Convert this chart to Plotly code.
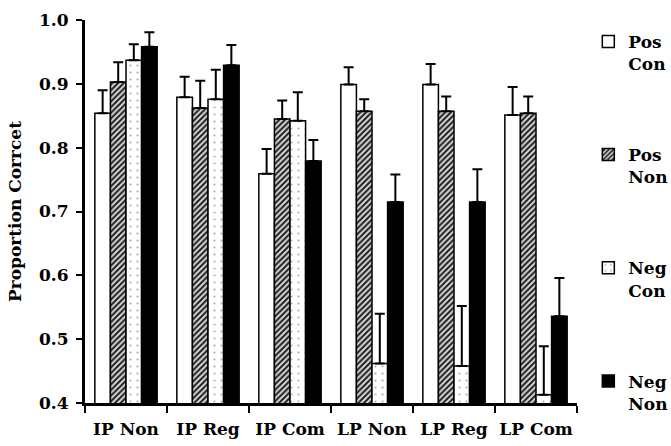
import plotly.graph_objects as go

categories = ["IP Non", "IP Reg", "IP Com", "LP Non", "LP Reg", "LP Com"]
series_names = ["Pos<br>Con", "Pos<br>Non", "Neg<br>Con", "Neg<br>Non"]

pos_con = [0.854, 0.879, 0.759, 0.899, 0.899, 0.851]
pos_con_se = [0.036, 0.032, 0.039, 0.027, 0.032, 0.044]
pos_non = [0.903, 0.862, 0.845, 0.857, 0.857, 0.854]
pos_non_se = [0.031, 0.043, 0.029, 0.019, 0.023, 0.026]
neg_con = [0.937, 0.876, 0.842, 0.462, 0.458, 0.413]
neg_con_se = [0.025, 0.046, 0.045, 0.078, 0.094, 0.076]
neg_non = [0.958, 0.929, 0.779, 0.715, 0.715, 0.536]
neg_non_se = [0.023, 0.032, 0.033, 0.043, 0.051, 0.060]

y_ticks = [0.4, 0.5, 0.6, 0.7, 0.8, 0.9, 1.0]
y_ticktext = ["0.4", "0.5", "0.6", "0.7", "0.8", "0.9", "1.0"]

FONT = "DejaVu Serif"

styles = [
    dict(color="white", pattern=None),
    dict(color="white", pattern=dict(shape="/", fgcolor="#1e1e1e", bgcolor="#d8d8d8",
                                     size=4, solidity=0.5, fillmode="replace")),
    dict(color="white", pattern=dict(shape=".", fgcolor="#b0b0b0", bgcolor="white",
                                     size=7, solidity=0.08, fillmode="replace")),
    dict(color="black", pattern=None),
]

data = [(pos_con, pos_con_se), (pos_non, pos_non_se), (neg_con, neg_con_se), (neg_non, neg_non_se)]

fig = go.Figure()
for i, ((vals, se), name, st) in enumerate(zip(data, series_names, styles)):
    marker = dict(color=st["color"], line=dict(color="black", width=1.5))
    if st["pattern"] is not None:
        marker["pattern"] = st["pattern"]
    fig.add_trace(go.Bar(
        x=categories, y=vals, name=name, legendgroup=f"g{i}",
        marker=marker,
        error_y=dict(type="data", array=se, arrayminus=[0] * len(se), symmetric=False,
                     color="black", thickness=2, width=5),
    ))

fig.update_layout(
    width=671, height=446,
    margin=dict(l=85, r=94, t=20, b=43, autoexpand=False),
    paper_bgcolor="white", plot_bgcolor="white",
    barmode="group", bargap=0.24, bargroupgap=0,
    font=dict(family=FONT, size=17, color="black", weight="bold"),
    showlegend=True,
    legend=dict(x=1.023, y=0.99, xanchor="left", yanchor="top",
                font=dict(family=FONT, size=17, color="black", weight="bold"),
                tracegroupgap=66, valign="top", itemwidth=30, maxheight=446,
                bgcolor="rgba(0,0,0,0)"),
    xaxis=dict(
        type="category", range=[-0.5, 5.5], tickangle=0,
        showline=True, linecolor="black", linewidth=3,
        ticks="outside", tickson="boundaries", ticklen=7, tickwidth=2, tickcolor="black",
        tickfont=dict(family=FONT, size=17, color="black", weight="bold"),
        ticklabelstandoff=9, showgrid=False, zeroline=False,
    ),
    yaxis=dict(
        range=[0.4, 1.0], tickvals=y_ticks, ticktext=y_ticktext,
        showline=True, linecolor="black", linewidth=3,
        ticks="outside", ticklen=6, tickwidth=2, tickcolor="black",
        tickfont=dict(family=FONT, size=17, color="black", weight="bold"),
        ticklabelstandoff=4, showgrid=False, zeroline=False,
        title=dict(text="Proportion Corrcet", standoff=14,
                   font=dict(family=FONT, size=17, color="black", weight="bold")),
        automargin=False,
    ),
)

fig.write_html("out.html")
